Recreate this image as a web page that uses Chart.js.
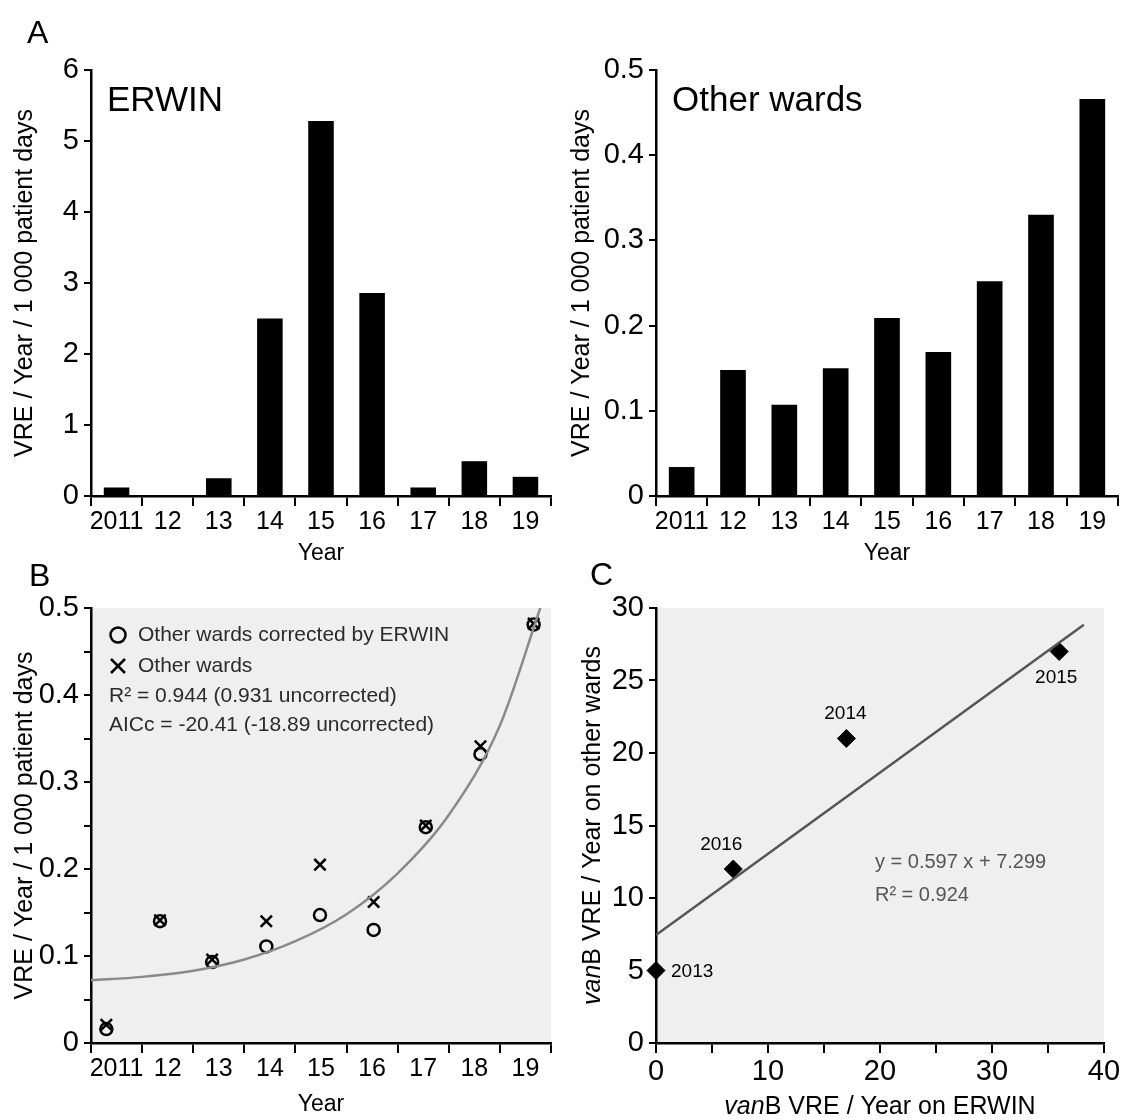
<!DOCTYPE html>
<html>
<head>
<meta charset="utf-8">
<script src="https://cdn.jsdelivr.net/npm/chart.js@4.4.1/dist/chart.umd.min.js"></script>
<style>
  html, body { margin: 0; padding: 0; background: #fff; }
  #wrap { position: relative; width: 1135px; height: 1120px; overflow: hidden; font-family: 'Liberation Sans', Arial, sans-serif; }
  canvas { position: absolute; }
  .letter { position: absolute; font-size: 32px; line-height: 32px; color: #000; }
</style>
</head>
<body>
<div id="wrap">
  <canvas id="erwinChart" width="567" height="570" style="left:0;top:0"></canvas>
  <canvas id="wardsChart" width="570" height="570" style="left:565px;top:0"></canvas>
  <canvas id="fitChart" width="567" height="550" style="left:0;top:570px"></canvas>
  <canvas id="corrChart" width="570" height="550" style="left:565px;top:570px"></canvas>
  <div class="letter" style="left:27px;top:16px">A</div>
  <div class="letter" style="left:29px;top:559px">B</div>
  <div class="letter" style="left:590px;top:558px">C</div>
</div>
<script>
// panel A - VRE per 1000 patient days
const years = ["2011", "12", "13", "14", "15", "16", "17", "18", "19"];
const erwinRate = [0.12, 0, 0.25, 2.5, 5.28, 2.86, 0.12, 0.49, 0.27];
const otherRate = [0.034, 0.148, 0.107, 0.150, 0.209, 0.169, 0.252, 0.330, 0.466];

// panel B - points sit a bit inside each year slot
const fitYearPos = [2011.30, 2012.35, 2013.37, 2014.43, 2015.48, 2016.53, 2017.55, 2018.62, 2019.66];
const correctedRate = [0.016, 0.140, 0.093, 0.111, 0.147, 0.130, 0.248, 0.332, 0.481];
const uncorrectedRate = [0.021, 0.141, 0.096, 0.140, 0.205, 0.162, 0.250, 0.341, 0.482];
const curveYearPos = [2011, 2012, 2013, 2014, 2015, 2016, 2017, 2018, 2019, 2019.79];
const curveRate = [0.072, 0.076, 0.083, 0.096, 0.117, 0.148, 0.195, 0.262, 0.365, 0.5];
const fitLegendText = [
  "Other wards corrected by ERWIN",
  "Other wards",
  "R\u00b2 = 0.944 (0.931 uncorrected)",
  "AICc = -20.41 (-18.89 uncorrected)"
];

// panel C - vanB per year, ERWIN vs other wards
const vanbErwin = [0, 6.9, 17, 36];
const vanbOther = [5, 12, 21, 27];
const vanbYears = ["2013", "2016", "2014", "2015"];
const trendErwin = [0, 38.2];
const trendOther = [7.45, 28.85];
const trendText = ["y = 0.597 x + 7.299", "R\u00b2 = 0.924"];

const FONT = "'Liberation Sans', Arial, sans-serif";
Chart.defaults.font.family = FONT;
Chart.defaults.color = "#000";

const axisBorder = { color: "#000", width: 2.5 };

function tickGrid(len, color) {
  return { drawOnChartArea: false, drawTicks: true, tickLength: len, lineWidth: 2, color: color || "#000" };
}

const plotBackground = {
  id: "plotBackground",
  beforeDraw(chart) {
    const { ctx, chartArea: a } = chart;
    ctx.save();
    ctx.fillStyle = "#efefef";
    ctx.fillRect(a.left, a.top, a.right - a.left, a.bottom - a.top);
    ctx.restore();
  }
};

function cornerTag(text) {
  return {
    id: "cornerTag",
    afterDraw(chart) {
      const { ctx, chartArea: a } = chart;
      ctx.save();
      ctx.font = "35px " + FONT;
      ctx.fillStyle = "#000";
      ctx.textBaseline = "alphabetic";
      ctx.fillText(text, a.left + 16, a.top + 41);
      ctx.restore();
    }
  };
}

function makeRateChart(canvasId, values, yMax, yStep, tag, titlePad, padRight) {
  return new Chart(document.getElementById(canvasId), {
    type: "bar",
    data: {
      labels: years,
      datasets: [{
        data: values,
        backgroundColor: "#000",
        categoryPercentage: 1,
        barPercentage: 0.5
      }]
    },
    options: {
      responsive: false,
      animation: false,
      layout: { padding: { top: 70, right: padRight, left: 0, bottom: 0 } },
      plugins: { legend: { display: false }, tooltip: { enabled: false } },
      scales: {
        x: {
          grid: tickGrid(10),
          border: axisBorder,
          ticks: { font: { size: 25 }, padding: 1, maxRotation: 0, autoSkip: false },
          title: { display: true, text: "Year", font: { size: 23 }, padding: { top: 0, bottom: 3 } },
          afterFit: (s) => { s.height = 74; }
        },
        y: {
          min: 0,
          max: yMax,
          grid: tickGrid(7),
          border: axisBorder,
          ticks: { stepSize: yStep, font: { size: 29 }, padding: 5 },
          title: { display: true, text: "VRE / Year / 1 000 patient days", font: { size: 25 }, padding: { top: titlePad, bottom: 0 } },
          afterFit: (s) => { s.width = 91; }
        }
      }
    },
    plugins: [cornerTag(tag)]
  });
}

makeRateChart("erwinChart", erwinRate, 6, 1, "ERWIN", 10, 16);
makeRateChart("wardsChart", otherRate, 0.5, 0.1, "Other wards", 2, 17);

// panel B
const fitLegend = {
  id: "fitLegend",
  afterDraw(chart) {
    const { ctx, chartArea: a } = chart;
    const ix = a.left + 27;
    ctx.save();
    ctx.strokeStyle = "#000";
    ctx.lineWidth = 2.5;
    ctx.beginPath();
    ctx.arc(ix, a.top + 27, 7.5, 0, Math.PI * 2);
    ctx.stroke();
    const cy = a.top + 58, r = 7;
    ctx.beginPath();
    ctx.moveTo(ix - r, cy - r); ctx.lineTo(ix + r, cy + r);
    ctx.moveTo(ix + r, cy - r); ctx.lineTo(ix - r, cy + r);
    ctx.stroke();
    ctx.font = "21px " + FONT;
    ctx.fillStyle = "#2b2b2b";
    ctx.textBaseline = "middle";
    ctx.fillText(fitLegendText[0], a.left + 47, a.top + 27);
    ctx.fillText(fitLegendText[1], a.left + 47, a.top + 58);
    ctx.fillText(fitLegendText[2], a.left + 18, a.top + 88);
    ctx.fillText(fitLegendText[3], a.left + 18, a.top + 117);
    ctx.restore();
  }
};

new Chart(document.getElementById("fitChart"), {
  type: "scatter",
  data: {
    datasets: [
      {
        type: "line",
        data: curveYearPos.map((x, i) => ({ x: x, y: curveRate[i] })),
        borderColor: "#8a8a8a",
        borderWidth: 2.5,
        pointRadius: 0,
        cubicInterpolationMode: "monotone",
        fill: false
      },
      {
        data: fitYearPos.map((x, i) => ({ x: x, y: correctedRate[i] })),
        pointStyle: "circle",
        pointRadius: 6,
        borderWidth: 2.5,
        borderColor: "#000",
        backgroundColor: "rgba(0,0,0,0)",
        clip: false
      },
      {
        data: fitYearPos.map((x, i) => ({ x: x, y: uncorrectedRate[i] })),
        pointStyle: "crossRot",
        pointRadius: 8,
        borderWidth: 2.5,
        borderColor: "#000",
        clip: false
      }
    ]
  },
  options: {
    responsive: false,
    animation: false,
    layout: { padding: { top: 38, right: 16, left: 0, bottom: 0 } },
    plugins: { legend: { display: false }, tooltip: { enabled: false } },
    scales: {
      x: {
        type: "linear",
        min: 2011,
        max: 2020,
        grid: tickGrid(10, (ctx) => (ctx.tick && ctx.tick.value % 1 === 0 ? "#000" : "rgba(0,0,0,0)")),
        border: axisBorder,
        ticks: {
          stepSize: 0.5,
          font: { size: 25 },
          padding: 1,
          maxRotation: 0,
          autoSkip: false,
          callback: (v) => (v % 1 === 0.5 ? years[v - 2011.5] : "")
        },
        title: { display: true, text: "Year", font: { size: 23 }, padding: { top: 0, bottom: 2 } },
        afterFit: (s) => { s.height = 77; }
      },
      y: {
        min: 0,
        max: 0.5,
        grid: tickGrid(7),
        border: axisBorder,
        ticks: {
          stepSize: 0.05,
          font: { size: 29 },
          padding: 5,
          autoSkip: false,
          callback: (v) => (Math.round(v * 100) % 10 === 0 ? String(Math.round(v * 10) / 10) : "")
        },
        title: { display: true, text: "VRE / Year / 1 000 patient days", font: { size: 25 }, padding: { top: 10, bottom: 0 } },
        afterFit: (s) => { s.width = 91; }
      }
    }
  },
  plugins: [plotBackground, fitLegend]
});

// panel C
function richWidth(ctx, parts, size) {
  let w = 0;
  parts.forEach(p => {
    ctx.font = (p.italic ? "italic " : "") + size + "px " + FONT;
    w += ctx.measureText(p.text).width;
  });
  return w;
}

function drawRich(ctx, parts, size, cx, cy) {
  let x = cx - richWidth(ctx, parts, size) / 2;
  ctx.textBaseline = "middle";
  ctx.textAlign = "left";
  parts.forEach(p => {
    ctx.font = (p.italic ? "italic " : "") + size + "px " + FONT;
    ctx.fillText(p.text, x, cy);
    x += ctx.measureText(p.text).width;
  });
}

const corrExtras = {
  id: "corrExtras",
  afterDraw(chart) {
    const { ctx, chartArea: a, scales } = chart;
    const pts = chart.getDatasetMeta(1).data;
    // year tags next to each diamond: [dx, dy, align]
    const tagPlace = [[15, 1, "left"], [-12, -24, "center"], [-1, -25, "center"], [-3, 26, "center"]];
    ctx.save();
    ctx.fillStyle = "#000";
    ctx.font = "19px " + FONT;
    ctx.textBaseline = "middle";
    pts.forEach((p, i) => {
      const [dx, dy, al] = tagPlace[i];
      ctx.textAlign = al;
      ctx.fillText(vanbYears[i], p.x + dx, p.y + dy);
    });

    ctx.fillStyle = "#555";
    ctx.font = "20px " + FONT;
    ctx.textAlign = "left";
    ctx.fillText(trendText[0], scales.x.getPixelForValue(19.55), scales.y.getPixelForValue(12.48));
    ctx.fillText(trendText[1], scales.x.getPixelForValue(19.55), scales.y.getPixelForValue(10.14));

    // axis titles with italic gene name
    ctx.fillStyle = "#000";
    drawRich(ctx, [{ text: "van", italic: true }, { text: "B VRE / Year on ERWIN" }], 25,
      (a.left + a.right) / 2, scales.x.bottom - 13);
    ctx.translate(scales.y.left + 28, (a.top + a.bottom) / 2);
    ctx.rotate(-Math.PI / 2);
    drawRich(ctx, [{ text: "van", italic: true }, { text: "B VRE / Year on other wards" }], 25, 0, 0);
    ctx.restore();
  }
};

new Chart(document.getElementById("corrChart"), {
  type: "scatter",
  data: {
    datasets: [
      {
        type: "line",
        data: trendErwin.map((x, i) => ({ x: x, y: trendOther[i] })),
        borderColor: "#555",
        borderWidth: 2.5,
        pointRadius: 0,
        fill: false
      },
      {
        data: vanbErwin.map((x, i) => ({ x: x, y: vanbOther[i] })),
        pointStyle: "rectRot",
        pointRadius: 9,
        backgroundColor: "#000",
        borderColor: "#000",
        borderWidth: 1,
        clip: false
      }
    ]
  },
  options: {
    responsive: false,
    animation: false,
    layout: { padding: { top: 38, right: 31, left: 0, bottom: 0 } },
    plugins: { legend: { display: false }, tooltip: { enabled: false } },
    scales: {
      x: {
        type: "linear",
        min: 0,
        max: 40,
        grid: tickGrid(10),
        border: axisBorder,
        ticks: {
          stepSize: 5,
          font: { size: 29 },
          padding: 2,
          maxRotation: 0,
          autoSkip: false,
          callback: (v) => (v % 10 === 0 ? String(v) : "")
        },
        afterFit: (s) => { s.height = 77; }
      },
      y: {
        min: 0,
        max: 30,
        grid: tickGrid(7),
        border: axisBorder,
        ticks: { stepSize: 5, font: { size: 29 }, padding: 5 },
        afterFit: (s) => { s.width = 91; }
      }
    }
  },
  plugins: [plotBackground, corrExtras]
});
</script>
</body>
</html>
